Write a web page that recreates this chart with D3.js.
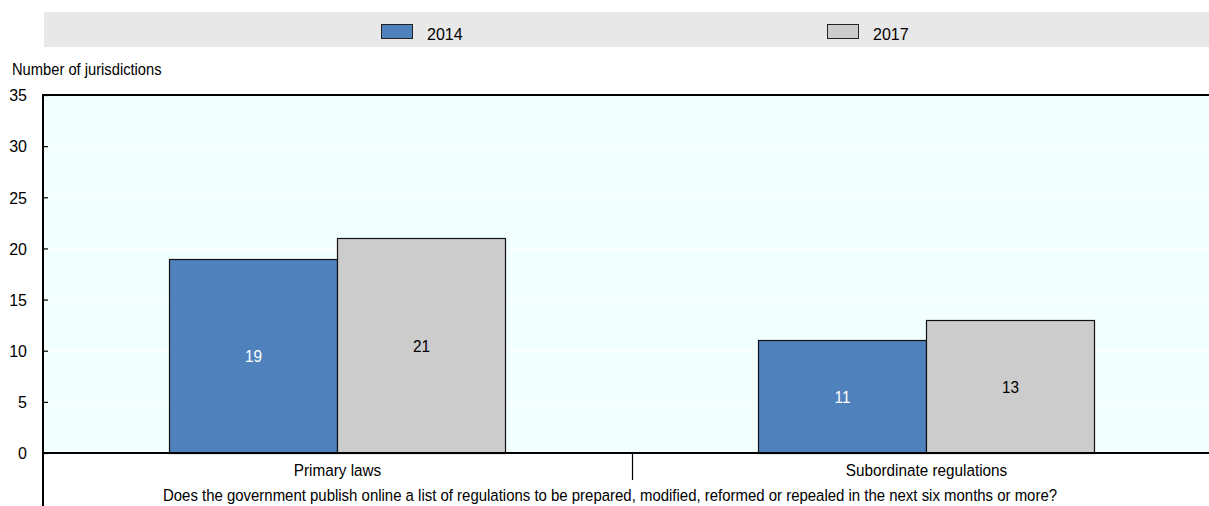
<!DOCTYPE html>
<html lang="en">
<head>
<meta charset="UTF-8">
<title>Online list of planned regulations</title>
<style>
    body {
        margin: 0;
        background: #ffffff;
        font-family: "Liberation Sans", Arial, sans-serif;
    }
    svg text {
        fill: #000000;
    }
</style>
<script src="https://d3js.org/d3.v7.min.js"></script>
</head>
<body>
<div id="chart"></div>
<script>

// data
var categories = ["Primary laws", "Subordinate regulations"];
var years = ["2014", "2017"];
var values2014 = [19, 11];
var values2017 = [21, 13];
var yTicks = [0, 5, 10, 15, 20, 25, 30, 35];
var questionLabel = "Does the government publish online a list of regulations to be prepared, modified, reformed or repealed in the next six months or more?";
var yTitle = "Number of jurisdictions";

var colors = {"2014": "#4f81bd", "2017": "#cccccc"};
var labelColors = {"2014": "#ffffff", "2017": "#000000"};

var W = 1209, H = 506;
var plot = {left: 43, right: 1221, top: 95, bottom: 453};

// the source font is a bit condensed, squeeze the text horizontally
var squeeze = 0.9;
function placeText(sel, x, y, sx) {
    return sel.attr("x", 0).attr("y", 0)
        .attr("transform", "translate(" + x + "," + y + ") scale(" + sx + ",1)");
}

var svg = d3.select("#chart")
    .append("svg")
    .attr("width", W)
    .attr("height", H);

// legend band
svg.append("rect")
    .attr("x", 44).attr("y", 12)
    .attr("width", W - 44).attr("height", 35)
    .attr("fill", "#e8e8e8");

var legendX = [381, 827];
years.forEach(function(yr, i) {
    svg.append("rect")
        .attr("x", legendX[i] + 0.5).attr("y", 24.5)
        .attr("width", 31).attr("height", 14)
        .attr("fill", colors[yr])
        .attr("stroke", "#222").attr("stroke-width", 1);
    svg.append("text")
        .attr("x", legendX[i] + 46).attr("y", 40)
        .style("font-size", "16px")
        .text(yr);
});

// scales
var x = d3.scaleBand()
    .domain(categories)
    .range([plot.left, plot.right])
    .padding(0);

var groupW = 336;
var xs = d3.scaleBand()
    .domain(years)
    .range([0, groupW])
    .padding(0);

var y = d3.scaleLinear()
    .domain([0, 35])
    .range([plot.bottom, plot.top]);

// plot background
svg.append("rect")
    .attr("x", plot.left).attr("y", plot.top)
    .attr("width", plot.right - plot.left).attr("height", plot.bottom - plot.top)
    .attr("fill", "#f2ffff");

// faint gridlines
svg.append("g")
    .selectAll("line")
    .data(yTicks.filter(function(d) { return d > 0 && d < 35; }))
    .enter()
    .append("line")
    .attr("x1", plot.left).attr("x2", plot.right)
    .attr("y1", function(d) { return Math.round(y(d)) + 0.5; })
    .attr("y2", function(d) { return Math.round(y(d)) + 0.5; })
    .attr("stroke", "#ffffff").attr("stroke-width", 1);

// bars
var rows = [];
categories.forEach(function(c, i) {
    rows.push({cat: c, year: "2014", value: values2014[i]});
    rows.push({cat: c, year: "2017", value: values2017[i]});
});

function barX(d) {
    return x(d.cat) + (x.bandwidth() - groupW) / 2 + xs(d.year);
}

svg.append("g")
    .selectAll("rect")
    .data(rows)
    .enter()
    .append("rect")
    .attr("x", function(d) { return Math.floor(barX(d)) + 0.5; })
    .attr("y", function(d) { return Math.round(y(d.value)) + 0.5; })
    .attr("width", xs.bandwidth())
    .attr("height", function(d) { return Math.round(y(0)) - Math.round(y(d.value)); })
    .attr("fill", function(d) { return colors[d.year]; })
    .attr("stroke", "#111")
    .attr("stroke-width", 1.2);

svg.append("g")
    .selectAll("text")
    .data(rows)
    .enter()
    .append("text")
    .attr("text-anchor", "middle")
    .style("font-size", "17px")
    .style("fill", function(d) { return labelColors[d.year]; })
    .text(function(d) { return d.value; })
    .each(function(d) {
        placeText(d3.select(this), barX(d) + xs.bandwidth() / 2,
            (y(d.value) + y(0)) / 2 + 6, squeeze);
    });

// top frame line
svg.append("line")
    .attr("x1", plot.left).attr("x2", W)
    .attr("y1", plot.top).attr("y2", plot.top)
    .attr("stroke", "#000").attr("stroke-width", 2);

// y axis, ticks point inward
var yAxis = svg.append("g")
    .attr("transform", "translate(" + plot.left + ",0)")
    .call(d3.axisLeft(y).tickValues(yTicks).tickSize(-5).tickPadding(16));
yAxis.select(".domain").remove();
yAxis.selectAll("line").attr("stroke", "#000").attr("stroke-width", 1.2);
yAxis.selectAll("text")
    .attr("x", -16)
    .attr("text-anchor", "end")
    .style("font-family", "'Liberation Sans', Arial, sans-serif")
    .style("font-size", "16px")
    .style("fill", "#000")
    .attr("dy", "0.36em");

svg.append("line")
    .attr("x1", plot.left).attr("x2", plot.left)
    .attr("y1", plot.top - 1).attr("y2", H)
    .attr("stroke", "#000").attr("stroke-width", 2);

// x axis
svg.append("line")
    .attr("x1", plot.left).attr("x2", W)
    .attr("y1", plot.bottom).attr("y2", plot.bottom)
    .attr("stroke", "#000").attr("stroke-width", 2);

// divider between categories
svg.append("g")
    .selectAll("line")
    .data(categories.slice(1))
    .enter()
    .append("line")
    .attr("x1", function(d) { return Math.round(x(d)) + 0.5; })
    .attr("x2", function(d) { return Math.round(x(d)) + 0.5; })
    .attr("y1", plot.bottom).attr("y2", 480)
    .attr("stroke", "#000").attr("stroke-width", 1.2);

svg.append("g")
    .selectAll("text")
    .data(categories)
    .enter()
    .append("text")
    .attr("text-anchor", "middle")
    .style("font-size", "17px")
    .text(function(d) { return d; })
    .each(function(d) {
        placeText(d3.select(this), x(d) + x.bandwidth() / 2, 476, squeeze);
    });

placeText(svg.append("text"), 610, 501, 0.88)
    .attr("text-anchor", "middle")
    .style("font-size", "17px")
    .text(questionLabel);

// y title
placeText(svg.append("text"), 12, 75, 0.92)
    .style("font-size", "16px")
    .text(yTitle);

</script>
</body>
</html>
